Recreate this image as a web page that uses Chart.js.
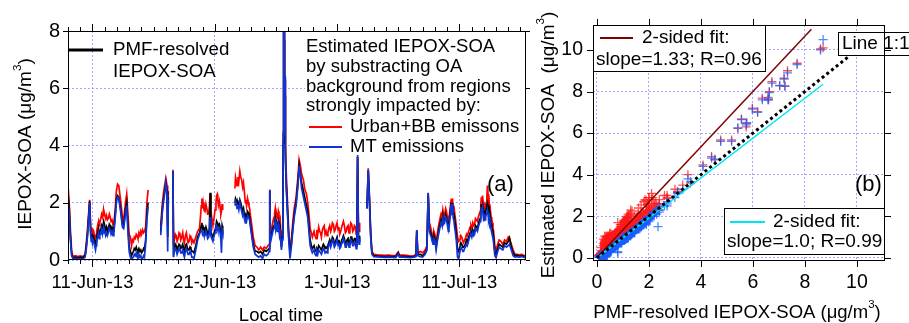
<!DOCTYPE html>
<html>
<head>
<meta charset="utf-8">
<script src="https://cdn.jsdelivr.net/npm/chart.js@4.4.0/dist/chart.umd.min.js"></script>
<style>
  html, body { margin: 0; padding: 0; background: #fff; }
  #wrap { position: relative; width: 909px; height: 323px; overflow: hidden; }
  canvas { position: absolute; top: 0; }
  #timeChart { left: 0; }
  #scatterChart { left: 530px; }
</style>
</head>
<body>
<div id="wrap">
  <canvas id="timeChart" width="531" height="323"></canvas>
  <canvas id="scatterChart" width="379" height="323"></canvas>
</div>
<script>
// time in days since 9-Jun-13 00:00 (null rows = gaps in the record)
const timeDays = [
    // 9-15 Jun
    0, 0.1, 0.2, 0.3, 0.4, 0.6, 0.8, 1.0, 1.2, 1.4,
    1.5, 1.6, 1.7, 1.77, 1.85, 1.9, 1.95, 2.0, 2.05, 2.1,
    2.15, 2.2, 2.25, 2.3, 2.35, 2.42, 2.5, 2.55, 2.6, 2.68,
    2.75, 2.82, 2.9, 2.95, 3.0, 3.08, 3.15, 3.22, 3.3, 3.38,
    3.45, 3.52, 3.6, 3.68, 3.75, 3.85, 3.95, 4.05, 4.15, 4.3,
    4.45, 4.55, 4.7, 4.8, 4.9, 5.0, 5.1, 5.2, 5.28, 5.35,
    5.42, 5.5, 5.58, 5.65, 5.72, 5.8, 5.88, 5.95, 6.02, 6.1,
    6.18, 6.25, 6.35, 6.45, 6.55, 6.6,
    // 16-17 Jun
    7.58, 7.7, 7.8, 7.9, 8.0, 8.1, 8.15, 8.2, 8.3,
    // 17-21 Jun
    8.58, 8.63, 8.7, 8.78, 8.85, 8.92, 9.0, 9.08, 9.15, 9.22,
    9.3, 9.38, 9.45, 9.52, 9.6, 9.68, 9.75, 9.82, 9.9, 9.98,
    10.05, 10.12, 10.2, 10.3, 10.45, 10.6, 10.75, 10.85, 10.9, 10.95,
    11.0, 11.05, 11.12, 11.2, 11.28, 11.35, 11.42, 11.5, 11.56, 11.62,
    11.68, 11.75, 11.85, 11.95, 12.02, 12.1, 12.15, 12.2, 12.25, 12.3,
    12.38, 12.45, 12.5, 12.55, 12.6, 12.65, 12.75,
    // 22-26 Jun
    13.65, 13.7, 13.75, 13.82, 13.9, 13.97, 14.05, 14.12, 14.2, 14.28,
    14.35, 14.42, 14.5, 14.55, 14.6, 14.68, 14.75, 14.8, 14.85, 14.92,
    15.0, 15.15, 15.3, 15.45, 15.6, 15.75, 15.9, 16.05, 16.2, 16.35,
    16.45, 16.5, 16.55, 16.62, 16.7, 16.78, 16.85, 16.9, 16.95, 17.0,
    17.05, 17.1, 17.15, 17.2, 17.25, 17.3, 17.35, 17.45, 17.52, 17.58,
    // 26 Jun event
    17.6, 17.606, 17.612, 17.618, 17.624, 17.63, 17.636, 17.642, 17.648, 17.654,
    17.66, 17.67, 17.68, 17.69, 17.7, 17.71, 17.72, 17.73, 17.74, 17.75,
    17.76, 17.77, 17.78,
    // 26 Jun - 2 Jul
    17.8, 17.85, 17.95, 18.05, 18.15, 18.25, 18.4, 18.5, 18.65, 18.8,
    18.9, 19.0, 19.1, 19.25, 19.35, 19.5, 19.6, 19.7, 19.8, 19.9,
    19.98, 20.05, 20.12, 20.2, 20.28, 20.35, 20.42, 20.5, 20.58, 20.65,
    20.72, 20.8, 20.88, 20.95, 21.02, 21.1, 21.18, 21.25, 21.32, 21.4,
    21.48, 21.55, 21.62, 21.7, 21.78, 21.85, 21.92, 22.0, 22.08, 22.15,
    22.22, 22.3, 22.38, 22.45, 22.52, 22.6, 22.68, 22.75, 22.82, 22.9,
    22.98, 23.05, 23.12, 23.2, 23.28, 23.35, 23.42, 23.5, 23.56, 23.62,
    23.68, 23.75, 23.8, 23.85, 23.9,
    // 3-7 Jul
    24.45, 24.55, 24.65, 24.75, 24.85, 25.0, 25.3, 25.6, 25.9, 26.2,
    26.5, 26.8, 27.0, 27.1, 27.4, 27.7, 28.0, 28.3, 28.45, 28.52,
    28.6, 28.8, 29.0, 29.2, 29.35,
    // 8-13 Jul
    29.45, 29.55, 29.62, 29.7, 29.78, 29.85, 29.92, 30.0, 30.1, 30.2,
    30.28, 30.35, 30.42, 30.5, 30.58, 30.65, 30.72, 30.8, 30.88, 30.95,
    31.0, 31.05, 31.1, 31.15, 31.22, 31.3, 31.35, 31.4, 31.45, 31.5,
    31.55, 31.6, 31.68, 31.75, 31.85, 31.95, 32.05, 32.12, 32.2, 32.28,
    32.35, 32.42, 32.5, 32.58, 32.65, 32.72, 32.8, 32.88, 32.95, 33.02,
    33.1, 33.18, 33.25, 33.32, 33.4, 33.48, 33.55, 33.62, 33.7, 33.75,
    33.8, 33.85, 33.9, 33.95, 34.0, 34.05, 34.1, 34.15, 34.2, 34.25,
    34.3, 34.35, 34.4, 34.45, 34.5, 34.55, 34.6, 34.65, 34.7, 34.75,
    34.8, 34.9,
    // 14-16 Jul
    35.0, 35.1, 35.25, 35.4, 35.55, 35.7, 35.85, 36.0, 36.1, 36.25,
    36.4, 36.55, 36.7, 36.9, 37.1, 37.35
];

// PMF-resolved IEPOX-SOA (ug/m3)
const pmfSOA = [
    2.3, 1.8, 0.8, 0.2, 0.08, 0.1, 0.08, 0.1, 0.08, 0.15,
    0.5, 0.95, 1.6, 2.05, 1.0, 0.8, 0.9, 0.75, 0.85, 0.8,
    0.7, 0.6, 0.5, 0.65, 0.8, 0.95, 1.1, 0.9, 1.0, 1.05,
    1.2, 1.1, 1.3, 1.15, 1.2, 1.05, 1.15, 1.0, 1.1, 1.25,
    1.2, 1.05, 1.15, 1.0, 1.1, 1.5, 2.1, 2.25, 2.2, 1.8,
    1.25, 1.2, 1.75, 2.0, 1.2, 0.5, 0.3, 0.15, 0.25, 0.3,
    0.4, 0.35, 0.45, 0.35, 0.3, 0.4, 0.3, 0.35, 0.25, 0.3,
    0.4, 0.35, 0.7, 1.6, 2.0, null,

    1.0, 1.7, 2.1, 2.4, 2.7, 2.4, 0.8, 2.2, null,

    3.1, 0.3, 0.4, 0.55, 0.5, 0.35, 0.45, 0.55, 0.5, 0.4,
    0.45, 0.55, 0.4, 0.3, 0.5, 0.55, 0.45, 0.35, 0.35, 0.45,
    0.4, 0.3, 0.3, 0.25, 0.5, 0.8, 0.95, 1.1, 1.2, 1.3,
    1.1, 1.15, 1.05, 1.0, 1.15, 1.05, 0.9, 0.95, 1.1, 2.35,
    1.0, 0.9, 0.8, 0.95, 1.05, 1.2, 1.35, 1.3, 1.2, 1.2,
    1.25, 1.1, 0.95, 0.8, 1.2, 1.1, null,

    2.0, 2.15, 2.1, 1.95, 2.0, 1.9, 2.1, 2.0, 1.85, 1.7,
    1.8, 1.6, 1.45, 1.55, 1.5, 1.7, 1.65, 1.55, 1.5, 1.25,
    1.0, 0.55, 0.3, 0.3, 0.25, 0.3, 0.2, 0.35, 0.3, 0.35,
    0.4, 2.4, 0.7, 0.85, 1.0, 1.15, 1.2, 1.35, 1.45, 1.25,
    1.3, 1.15, 1.2, 1.35, 1.25, 1.0, 1.1, 0.45, 0.8, 2.0,

    4.08, 4.54, 5.18, 5.56, 5.98, 6.36, 6.63, 7.03, 7.33, 8.6,
    8.7, 7.7, 7.2, 7.23, 6.73, 6.58, 6.6, 6.18, 5.76, 5.74,
    5.42, 4.76, 4.41,

    3.5, 2.6, 1.7, 0.8, 0.3, 0.5, 1.2, 1.6, 2.0, 2.7,
    3.3, 3.0, 2.7, 2.4, 2.2, 1.9, 1.7, 1.2, 0.7, 0.5,
    0.4, 0.45, 0.5, 0.35, 0.3, 0.4, 0.35, 0.5, 0.45, 0.4,
    0.35, 0.45, 0.55, 0.5, 0.4, 0.45, 0.4, 0.5, 0.6, 0.7,
    0.55, 0.65, 0.8, 0.75, 0.55, 0.6, 0.7, 0.8, 0.6, 0.7,
    0.5, 0.55, 0.7, 0.75, 0.85, 0.75, 0.55, 0.6, 0.7, 0.75,
    0.55, 0.6, 0.8, 0.8, 0.6, 0.65, 0.75, 0.75, 0.5, 0.6,
    3.6, 0.8, 0.65, 0.85, null,

    1.8, 3.1, 2.1, 0.9, 0.25, 0.15, 0.14, 0.13, 0.12, 0.13,
    0.12, 0.12, 0.25, 0.14, 0.13, 0.12, 0.11, 0.12, 0.15, 1.0,
    0.2, 0.2, 0.15, 0.25, 0.4,

    2.3, 1.1, 1.0, 0.9, 0.75, 0.65, 0.85, 0.75, 0.45, 0.75,
    0.95, 1.1, 1.25, 1.4, 1.3, 1.55, 1.35, 1.4, 1.6, 1.5,
    1.35, 1.3, 1.15, 1.25, 1.5, 1.85, 1.75, 2.0, 1.8, 1.6,
    1.65, 1.45, 1.2, 0.9, 0.4, 0.3, 0.45, 0.6, 0.55, 0.45,
    0.45, 0.5, 0.55, 0.7, 0.65, 0.75, 0.85, 0.95, 1.0, 0.9,
    1.05, 0.95, 1.0, 1.2, 1.15, 1.1, 1.25, 1.35, 1.45, 1.65,
    1.95, 1.75, 1.9, 1.7, 1.5, 1.65, 1.55, 1.7, 1.8, 1.9,
    2.0, 1.9, 1.6, 1.7, 1.4, 1.45, 1.25, 1.15, 1.05, 0.95,
    0.8, 0.3,

    0.2, 0.35, 0.55, 0.5, 0.45, 0.6, 0.55, 0.65, 0.77, 0.45,
    0.25, 0.15, 0.17, 0.14, 0.15, 0.12
];

// estimated IEPOX-SOA, urban + biomass burning background removed
const urbanBBSOA = [
    2.6, 2.0, 1.0, 0.3, 0.12, 0.15, 0.12, 0.14, 0.12, 0.2,
    0.6, 1.1, 1.7, 2.1, 1.2, 1.0, 1.1, 0.95, 1.05, 1.0,
    0.9, 0.8, 0.7, 0.85, 1.0, 1.2, 1.35, 1.2, 1.3, 1.45,
    1.6, 1.5, 1.75, 1.55, 1.6, 1.45, 1.55, 1.4, 1.45, 1.6,
    1.5, 1.35, 1.4, 1.25, 1.3, 1.7, 2.4, 2.65, 2.6, 2.1,
    1.5, 1.4, 2.0, 2.3, 1.6, 0.9, 0.8, 0.5, 0.7, 0.65,
    0.8, 0.75, 0.9, 0.85, 0.75, 0.95, 0.85, 1.0, 0.9, 1.05,
    0.95, 1.0, 1.15, 2.0, 2.45, null,

    1.2, 1.9, 2.3, 2.6, 2.85, 2.6, 1.2, 2.4, null,

    3.15, 0.5, 0.7, 0.9, 0.85, 0.65, 0.75, 0.95, 0.9, 0.7,
    0.8, 0.95, 0.7, 0.6, 0.85, 0.95, 0.75, 0.6, 0.65, 0.85,
    0.8, 0.6, 0.7, 0.6, 0.8, 1.0, 1.1, 1.6, 1.9, 2.15,
    1.8, 2.0, 1.75, 1.7, 1.95, 1.8, 1.6, 1.6, 1.85, 2.3,
    1.7, 1.5, 1.2, 1.5, 1.75, 2.0, 2.25, 2.3, 2.1, 1.9,
    2.05, 1.8, 1.6, 1.7, 1.95, 1.75, null,

    2.5, 2.9, 2.8, 2.6, 2.9, 2.75, 3.1, 2.9, 2.8, 2.55,
    2.7, 2.4, 2.0, 2.1, 1.9, 2.15, 2.0, 1.9, 1.8, 1.55,
    1.3, 0.8, 0.5, 0.45, 0.35, 0.45, 0.35, 0.45, 0.4, 0.5,
    0.55, 2.45, 0.9, 1.05, 1.2, 1.4, 1.5, 1.65, 1.8, 1.55,
    1.6, 1.45, 1.5, 1.7, 1.6, 1.3, 1.4, 0.6, 1.0, 2.2,

    4.47, 4.71, 5.67, 6.68, 7.2, 7.68, 8.0, 8.27, 9.0, 10.05,
    10.1, 9.36, 8.64, 8.27, 8.48, 7.72, 7.6, 7.03, 6.47, 6.3,
    6.23, 5.67, 4.87,

    4.0, 3.0, 2.0, 1.0, 0.5, 0.6, 1.4, 1.8, 2.2, 2.9,
    3.5, 3.3, 3.0, 2.8, 2.5, 2.3, 2.0, 1.6, 1.1, 0.95,
    0.8, 0.9, 1.0, 0.85, 0.75, 1.05, 0.9, 1.15, 1.0, 0.95,
    0.8, 1.05, 1.15, 1.2, 0.9, 1.0, 0.85, 0.95, 1.1, 1.2,
    1.0, 1.1, 1.3, 1.25, 1.0, 1.05, 1.2, 1.3, 1.05, 1.15,
    0.9, 1.0, 1.15, 1.25, 1.35, 1.2, 0.95, 1.0, 1.15, 1.2,
    0.95, 1.1, 1.3, 1.25, 1.0, 1.05, 1.2, 1.15, 0.9, 1.0,
    3.6, 1.2, 1.0, 1.3, null,

    1.86, 3.2, 2.2, 1.0, 0.3, 0.2, 0.18, 0.17, 0.16, 0.17,
    0.15, 0.16, 0.28, 0.18, 0.17, 0.16, 0.14, 0.15, 0.2, 1.05,
    0.25, 0.3, 0.25, 0.35, 0.5,

    2.35, 1.3, 1.2, 1.05, 0.9, 0.8, 1.0, 0.9, 0.6, 0.9,
    1.15, 1.3, 1.45, 1.6, 1.5, 1.75, 1.55, 1.6, 1.8, 1.7,
    1.55, 1.5, 1.35, 1.45, 1.7, 2.0, 1.9, 2.15, 1.95, 1.8,
    1.9, 1.7, 1.45, 1.2, 0.8, 0.65, 0.7, 0.85, 0.8, 0.65,
    0.6, 0.7, 0.75, 0.9, 0.85, 0.95, 1.05, 1.15, 1.2, 1.1,
    1.3, 1.2, 1.25, 1.45, 1.4, 1.35, 1.5, 1.6, 1.7, 1.9,
    2.2, 2.0, 2.25, 2.0, 1.75, 1.9, 1.8, 1.95, 2.0, 2.2,
    2.6, 2.3, 1.8, 1.95, 1.6, 1.7, 1.5, 1.4, 1.3, 1.15,
    1.0, 0.5,

    0.35, 0.5, 0.7, 0.65, 0.55, 0.7, 0.65, 0.8, 0.75, 0.55,
    0.35, 0.2, 0.2, 0.18, 0.2, 0.15
];

// estimated IEPOX-SOA, monoterpene background removed
const mtSOA = [
    2.1, 1.6, 0.7, 0.15, 0.05, 0.06, 0.04, 0.05, 0.03, 0.1,
    0.4, 0.85, 1.5, 2.0, 0.9, 0.65, 0.8, 0.6, 0.7, 0.65,
    0.55, 0.45, 0.35, 0.5, 0.7, 0.8, 0.95, 0.75, 0.9, 0.9,
    1.05, 0.9, 1.1, 0.95, 1.0, 0.85, 0.95, 0.85, 0.95, 1.1,
    1.05, 0.9, 1.0, 0.85, 0.95, 1.4, 2.0, 2.2, 2.15, 1.7,
    1.15, 1.1, 1.6, 1.9, 1.0, 0.3, 0.1, 0.02, 0.08, 0.1,
    0.2, 0.15, 0.25, 0.1, 0.08, 0.2, 0.1, 0.15, 0.05, 0.05,
    0.15, 0.1, 0.55, 1.4, 1.85, null,

    0.87, 1.6, 2.0, 2.3, 2.7, 2.3, 0.3, 2.1, null,

    3.1, 0.1, 0.3, 0.4, 0.35, 0.2, 0.3, 0.4, 0.35, 0.25,
    0.25, 0.35, 0.2, 0.1, 0.3, 0.4, 0.3, 0.2, 0.2, 0.3,
    0.25, 0.1, 0.1, 0.05, 0.35, 0.7, 0.9, 1.0, 1.0, 1.05,
    0.9, 0.95, 0.85, 0.85, 1.0, 0.9, 0.75, 0.8, 0.95, 1.5,
    0.85, 0.75, 0.65, 0.85, 0.95, 1.1, 1.2, 1.15, 1.05, 1.05,
    1.1, 0.9, 0.7, 0.25, 1.05, 0.95, null,

    1.9, 2.05, 2.0, 1.8, 1.9, 1.75, 2.0, 1.85, 1.7, 1.55,
    1.65, 1.45, 1.3, 1.4, 1.35, 1.55, 1.5, 1.45, 1.4, 1.15,
    0.9, 0.45, 0.2, 0.15, 0.1, 0.15, 0.05, 0.2, 0.15, 0.2,
    0.3, 2.45, 0.6, 0.75, 0.9, 1.05, 1.1, 1.25, 1.35, 1.1,
    1.2, 1.0, 1.05, 1.25, 1.1, 0.85, 0.95, 0.35, 0.7, 2.0,

    4.4, 4.75, 5.6, 6.65, 7.15, 7.6, 7.95, 8.3, 8.9, 10.0,
    10.5, 9.3, 8.6, 8.25, 8.4, 7.6, 7.65, 7.0, 6.5, 6.4,
    6.25, 5.6, 4.8,

    3.8, 2.5, 1.6, 0.7, 0.05, 0.4, 1.1, 1.5, 1.9, 2.6,
    3.3, 2.9, 2.5, 2.2, 2.0, 1.7, 1.5, 1.0, 0.5, 0.35,
    0.25, 0.3, 0.35, 0.2, 0.15, 0.3, 0.2, 0.35, 0.3, 0.25,
    0.2, 0.3, 0.4, 0.35, 0.25, 0.3, 0.25, 0.4, 0.5, 0.6,
    0.45, 0.55, 0.7, 0.65, 0.45, 0.5, 0.6, 0.7, 0.5, 0.6,
    0.4, 0.45, 0.6, 0.6, 0.75, 0.65, 0.45, 0.45, 0.6, 0.6,
    0.45, 0.5, 0.7, 0.65, 0.5, 0.5, 0.6, 0.6, 0.4, 0.5,
    3.67, 0.7, 0.55, 0.75, null,

    1.8, 3.15, 2.0, 0.8, 0.2, 0.12, 0.11, 0.1, 0.09, 0.1,
    0.09, 0.08, 0.2, 0.1, 0.1, 0.09, 0.08, 0.1, 0.12, 1.05,
    0.15, 0.12, 0.1, 0.2, 0.35,

    2.34, 1.0, 0.9, 0.8, 0.65, 0.55, 0.75, 0.7, 0.35, 0.65,
    0.85, 1.0, 1.15, 1.3, 1.2, 1.45, 1.25, 1.3, 1.5, 1.45,
    1.25, 1.15, 1.0, 1.1, 1.4, 1.8, 1.7, 1.95, 1.75, 1.45,
    1.4, 1.2, 0.95, 0.7, 0.1, 0.05, 0.3, 0.45, 0.4, 0.3,
    0.3, 0.4, 0.45, 0.55, 0.5, 0.6, 0.75, 0.85, 0.9, 0.8,
    0.95, 0.85, 0.9, 1.1, 1.05, 1.0, 1.15, 1.25, 1.35, 1.55,
    1.85, 1.65, 1.8, 1.55, 1.35, 1.5, 1.4, 1.5, 1.6, 1.65,
    1.75, 1.6, 1.4, 1.5, 1.2, 1.25, 1.05, 0.95, 0.85, 0.75,
    0.6, 0.15,

    0.08, 0.25, 0.45, 0.4, 0.35, 0.5, 0.45, 0.5, 0.55, 0.35,
    0.15, 0.1, 0.12, 0.1, 0.12, 0.08
];

const dateTickDays = [2, 12, 22, 32];
const dateTickLabels = ["11-Jun-13", "21-Jun-13", "1-Jul-13", "11-Jul-13"];
const scatterTicks = [0, 2, 4, 6, 8, 10];

// fit lines of panel (b)
const fitUrbanX = [0, 8.25];
const fitUrbanY = [0.02, 11.0];
const fitMtX = [0, 8.7];
const fitMtY = [0, 8.35];
const oneToOneX = [0, 9.7];
const oneToOneY = [0, 9.7];

const FONT = '"Liberation Sans", Arial, Helvetica, sans-serif';
const RED = "#ff0000";
const BLUE = "#0f34d6";
const GRID = "rgba(110,110,255,0.6)";

function series(values) {
    return timeDays.map((t, i) => ({ x: t, y: values[i] }));
}
function pairs(xs, ys) {
    return xs.map((x, i) => ({ x: x, y: ys[i] }));
}
function scatterPairs(ys) {
    return pmfSOA.map((x, i) => ({ x: x, y: ys[i] })).filter(p => p.x !== null && p.y !== null);
}

function txt(ctx, s, x, y, size, align) {
    ctx.font = size + "px " + FONT;
    ctx.textAlign = align || "left";
    ctx.textBaseline = "middle";
    ctx.fillStyle = "#000";
    ctx.fillText(s, x, y);
}

// centred text with superscript parts: [[text, isSup], ...]
function richText(ctx, parts, x, y, size) {
    const widths = parts.map(p => {
        ctx.font = (p[1] ? size * 0.62 : size) + "px " + FONT;
        return ctx.measureText(p[0]).width;
    });
    let cx = x - widths.reduce((a, b) => a + b, 0) / 2;
    ctx.textAlign = "left";
    ctx.textBaseline = "middle";
    ctx.fillStyle = "#000";
    parts.forEach((p, i) => {
        ctx.font = (p[1] ? size * 0.62 : size) + "px " + FONT;
        ctx.fillText(p[0], cx, p[1] ? y - size * 0.45 : y);
        cx += widths[i];
    });
}

function legendLine(ctx, x1, x2, y, color, width) {
    ctx.strokeStyle = color;
    ctx.lineWidth = width;
    ctx.beginPath();
    ctx.moveTo(x1, y);
    ctx.lineTo(x2, y);
    ctx.stroke();
}

function box(ctx, x, y, w, h) {
    ctx.fillStyle = "#fff";
    ctx.fillRect(x, y, w, h);
    ctx.strokeStyle = "#000";
    ctx.lineWidth = 1;
    ctx.strokeRect(x + 0.5, y + 0.5, w, h);
}

function frame(ctx, a) {
    ctx.strokeStyle = "#000";
    ctx.lineWidth = 1;
    ctx.strokeRect(a.left + 0.5, a.top + 0.5, a.right - a.left - 1, a.bottom - a.top - 1);
}

const timeDecor = {
    id: "timeDecor",
    beforeDatasetsDraw(chart) {
        const { ctx, chartArea: a } = chart;
        ctx.save();
        ctx.fillStyle = "#fff";
        ctx.fillRect(305, a.top + 1, a.right - 306, 126);
        ctx.restore();
    },
    afterDraw(chart) {
        const { ctx, chartArea: a, scales } = chart;
        ctx.save();
        frame(ctx, a);
        ctx.beginPath();
        for (let d = 0; d <= 37; d++) {
            const px = Math.round(scales.x.getPixelForValue(d)) + 0.5;
            const len = dateTickDays.includes(d) ? 7 : 4;
            ctx.moveTo(px, a.bottom); ctx.lineTo(px, a.bottom + len);
            ctx.moveTo(px, a.top); ctx.lineTo(px, a.top - len);
        }
        scales.y.ticks.forEach(t => {
            const py = Math.round(scales.y.getPixelForValue(t.value)) + 0.5;
            ctx.moveTo(a.left, py); ctx.lineTo(a.left - 5, py);
            ctx.moveTo(a.right, py); ctx.lineTo(a.right + 4, py);
        });
        ctx.stroke();

        // tick labels
        scales.x.ticks.forEach(t => {
            txt(ctx, dateTickLabels[dateTickDays.indexOf(t.value)], scales.x.getPixelForValue(t.value), 283, 18.5, "center");
        });
        scales.y.ticks.forEach(t => {
            txt(ctx, String(t.value), a.left - 8, scales.y.getPixelForValue(t.value), 20, "right");
        });

        // legends
        legendLine(ctx, 68, 103, 50, "#000", 3);
        txt(ctx, "PMF-resolved", 113, 50, 18.7);
        txt(ctx, "IEPOX-SOA", 113, 72, 18.7);
        txt(ctx, "Estimated IEPOX-SOA", 306, 47, 18.5);
        txt(ctx, "by substracting OA", 306, 67, 18.5);
        txt(ctx, "background from regions", 306, 87, 18.5);
        txt(ctx, "strongly impacted by:", 306, 106, 18.5);
        legendLine(ctx, 309, 342, 127, RED, 2);
        txt(ctx, "Urban+BB emissons", 350, 127, 18.5);
        legendLine(ctx, 309, 342, 147, BLUE, 2);
        txt(ctx, "MT emissions", 350, 147, 18.5);
        txt(ctx, "(a)", 487, 185, 22);

        // axis titles
        txt(ctx, "Local time", 281, 316, 18.5, "center");
        ctx.translate(26, 144);
        ctx.rotate(-Math.PI / 2);
        richText(ctx, [["IEPOX-SOA (\u03bcg/m", false], ["3", true], [")", false]], 0, 0, 19);
        ctx.restore();
    }
};

const scatterDecor = {
    id: "scatterDecor",
    afterDatasetsDraw(chart) {
        const { ctx, chartArea: a } = chart;
        ctx.save();
        box(ctx, a.left, a.top, 172, 46);
        legendLine(ctx, 70, 103, 38, "#7f0000", 2);
        txt(ctx, "2-sided fit:", 112, 38, 19);
        txt(ctx, "slope=1.33; R=0.96", 66, 60, 19);

        box(ctx, 308, 32, 90, 23);
        txt(ctx, "Line 1:1", 312, 44, 19);

        box(ctx, 194, 208, 160, 46);
        legendLine(ctx, 200, 235, 222, "#00e6f0", 2);
        txt(ctx, "2-sided fit:", 243, 222, 19);
        txt(ctx, "slope=1.0; R=0.99", 197, 242, 19);

        txt(ctx, "(b)", 325, 185, 22);
        ctx.restore();
    },
    afterDraw(chart) {
        const { ctx, chartArea: a, scales } = chart;
        ctx.save();
        frame(ctx, a);
        ctx.beginPath();
        scales.x.ticks.forEach(t => {
            const px = Math.round(scales.x.getPixelForValue(t.value)) + 0.5;
            ctx.moveTo(px, a.bottom); ctx.lineTo(px, a.bottom + 6);
            ctx.moveTo(px, a.top); ctx.lineTo(px, a.top - 6);
        });
        scales.y.ticks.forEach(t => {
            const py = Math.round(scales.y.getPixelForValue(t.value)) + 0.5;
            ctx.moveTo(a.left, py); ctx.lineTo(a.left - 6, py);
            ctx.moveTo(a.right, py); ctx.lineTo(a.right + 6, py);
        });
        ctx.stroke();

        scales.x.ticks.forEach(t => {
            txt(ctx, String(t.value), scales.x.getPixelForValue(t.value), 283, 19.5, "center");
        });
        scales.y.ticks.forEach(t => {
            txt(ctx, String(t.value), a.left - 10, scales.y.getPixelForValue(t.value), 19.5, "right");
        });

        richText(ctx, [["PMF-resolved IEPOX-SOA (\u03bcg/m", false], ["3", true], [")", false]], 207, 313, 18.5);
        ctx.translate(19, 145);
        ctx.rotate(-Math.PI / 2);
        richText(ctx, [["Estimated IEPOX-SOA  (\u03bcg/m", false], ["3", true], [")", false]], 0, 0, 19);
        ctx.restore();
    }
};

// (a) time series
new Chart(document.getElementById("timeChart"), {
    type: "line",
    data: {
        datasets: [
            { label: "MT emissions", data: series(mtSOA), borderColor: BLUE, order: 0 },
            { label: "PMF-resolved IEPOX-SOA", data: series(pmfSOA), borderColor: "#000", order: 1 },
            { label: "Urban+BB emissons", data: series(urbanBBSOA), borderColor: RED, order: 2 }
        ]
    },
    options: {
        responsive: false,
        animation: false,
        devicePixelRatio: 1,
        spanGaps: false,
        elements: {
            point: { radius: 0 },
            line: { borderWidth: 1.7, tension: 0 }
        },
        layout: { padding: { top: 31, right: 5, left: 0, bottom: 0 } },
        plugins: { legend: { display: false }, tooltip: { enabled: false } },
        scales: {
            x: {
                type: "linear",
                min: 0,
                max: 37.45,
                afterBuildTicks: s => { s.ticks = dateTickDays.map(v => ({ value: v })); },
                afterFit: s => { s.height = 63; },
                ticks: { display: false },
                grid: { color: GRID, drawTicks: false },
                border: { display: false, dash: [2, 2] }
            },
            y: {
                min: 0,
                max: 8,
                afterFit: s => { s.width = 68; },
                ticks: { stepSize: 2, display: false },
                grid: { color: GRID, drawTicks: false },
                border: { display: false, dash: [2, 2] }
            }
        }
    },
    plugins: [timeDecor]
});

// (b) scatter
new Chart(document.getElementById("scatterChart"), {
    type: "scatter",
    data: {
        datasets: [
            { data: pairs(oneToOneX, oneToOneY), showLine: true, borderColor: "#000", borderWidth: 3, borderDash: [3, 3], pointRadius: 0, order: 0 },
            { data: pairs(fitUrbanX, fitUrbanY), showLine: true, borderColor: "#7f0000", borderWidth: 1.5, pointRadius: 0, order: 0 },
            { data: pairs(fitMtX, fitMtY), showLine: true, borderColor: "#00e6f0", borderWidth: 1.5, pointRadius: 0, order: 0 },
            { data: scatterPairs(mtSOA), pointStyle: "cross", pointRadius: 4.5, pointBorderWidth: 1.3, pointBorderColor: "rgba(25,95,255,0.75)", order: 1 },
            { data: scatterPairs(urbanBBSOA), pointStyle: "cross", pointRadius: 4.5, pointBorderWidth: 1.3, pointBorderColor: "rgba(255,25,25,0.75)", order: 2 }
        ]
    },
    options: {
        responsive: false,
        animation: false,
        devicePixelRatio: 1,
        layout: { padding: { top: 25, right: 24, left: 0, bottom: 0 } },
        plugins: { legend: { display: false }, tooltip: { enabled: false } },
        scales: {
            x: {
                type: "linear",
                min: -0.15,
                max: 11.08,
                afterBuildTicks: s => { s.ticks = scatterTicks.map(v => ({ value: v })); },
                afterFit: s => { s.height = 62; },
                ticks: { display: false },
                grid: { color: GRID, drawTicks: false },
                border: { display: false, dash: [2, 2] }
            },
            y: {
                type: "linear",
                min: -0.15,
                max: 11.2,
                afterBuildTicks: s => { s.ticks = scatterTicks.map(v => ({ value: v })); },
                afterFit: s => { s.width = 63; },
                ticks: { display: false },
                grid: { color: GRID, drawTicks: false },
                border: { display: false, dash: [2, 2] }
            }
        }
    },
    plugins: [scatterDecor]
});
</script>
</body>
</html>
